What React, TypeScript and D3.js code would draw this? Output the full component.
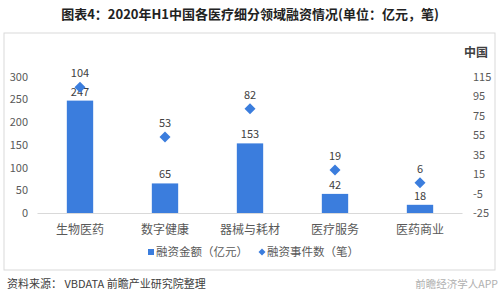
import React from "react";
import * as d3 from "d3";

const categories = ["生物医药", "数字健康", "器械与耗材", "医疗服务", "医药商业"];
const amounts = [247, 65, 153, 42, 18];
const counts = [104, 53, 82, 19, 6];
const leftTicks = [0, 50, 100, 150, 200, 250, 300];
const rightTicks = [-25, -5, 15, 35, 55, 75, 95, 115];

const W = 500, H = 305;
const FONT = "'Microsoft YaHei','Noto Sans CJK SC','Noto Sans',sans-serif";
const BLUE = "#3B7DDD";

export default function App() {
  const x = d3.scaleBand<string>().domain(categories).range([37.5, 462.5]).paddingInner(0.69).paddingOuter(0.345);
  const yL = d3.scaleLinear().domain([0, 300]).range([213, 76.5]);
  const yR = d3.scaleLinear().domain([-25, 115]).range([213, 76.5]);
  const cx = (c: string) => (x(c) as number) + x.bandwidth() / 2;
  const dsz = 5.5;
  return (
    <svg width={W} height={H} style={{ position: "absolute", left: 0, top: 0, background: "#fff" }} fontFamily={FONT}>
      <text x={250} y={19} textAnchor="middle" fontSize={13} fontWeight="bold" fill="#222">
        图表4：2020年H1中国各医疗细分领域融资情况(单位：亿元，笔)
      </text>
      <rect x={4} y={33} width={491} height={237} fill="none" stroke="#d9d9d9" strokeWidth={1} />
      {leftTicks.map((t) => (
        <text key={"l" + t} x={28} y={yL(t) + 4} textAnchor="end" fontSize={11} fill="#595959">{t}</text>
      ))}
      {rightTicks.map((t) => (
        <text key={"r" + t} x={473} y={yR(t) + 4} textAnchor="start" fontSize={11} fill="#595959">{t}</text>
      ))}
      <text x={488} y={57} textAnchor="end" fontSize={12} fontWeight="bold" fill="#404040">中国</text>
      {categories.map((c, i) => (
        <rect key={"b" + c} x={x(c)} y={yL(amounts[i])} width={x.bandwidth()} height={yL(0) - yL(amounts[i])} fill={BLUE} />
      ))}
      <line x1={37.5} x2={462.5} y1={213.5} y2={213.5} stroke="#d9d9d9" />
      {categories.map((c, i) => (
        <text key={"bl" + c} x={cx(c)} y={yL(amounts[i]) - 5} textAnchor="middle" fontSize={11} fill="#404040">{amounts[i]}</text>
      ))}
      {categories.map((c, i) => {
        const px = cx(c), py = yR(counts[i]);
        return (
          <g key={"d" + c}>
            <path d={`M${px},${py - dsz}L${px + dsz},${py}L${px},${py + dsz}L${px - dsz},${py}Z`} fill={BLUE} />
            <text x={px} y={py - 10} textAnchor="middle" fontSize={11} fill="#404040">{counts[i]}</text>
          </g>
        );
      })}
      {categories.map((c) => (
        <text key={"c" + c} x={cx(c)} y={234} textAnchor="middle" fontSize={12} fill="#595959">{c}</text>
      ))}
      <rect x={148} y={249} width={6} height={6} fill={BLUE} />
      <text x={156} y={256} fontSize={11.5} fill="#595959">融资金额（亿元）</text>
      <path d="M262,248.5L265.5,252L262,255.5L258.5,252Z" fill={BLUE} />
      <text x={267} y={256} fontSize={11.5} fill="#595959">融资事件数（笔）</text>
      <text x={7} y={288} fontSize={11} fill="#404040">资料来源： VBDATA 前瞻产业研究院整理</text>
      <text x={498} y={288} textAnchor="end" fontSize={10.5} fill="#b0b0b0">前瞻经济学人APP</text>
    </svg>
  );
}
